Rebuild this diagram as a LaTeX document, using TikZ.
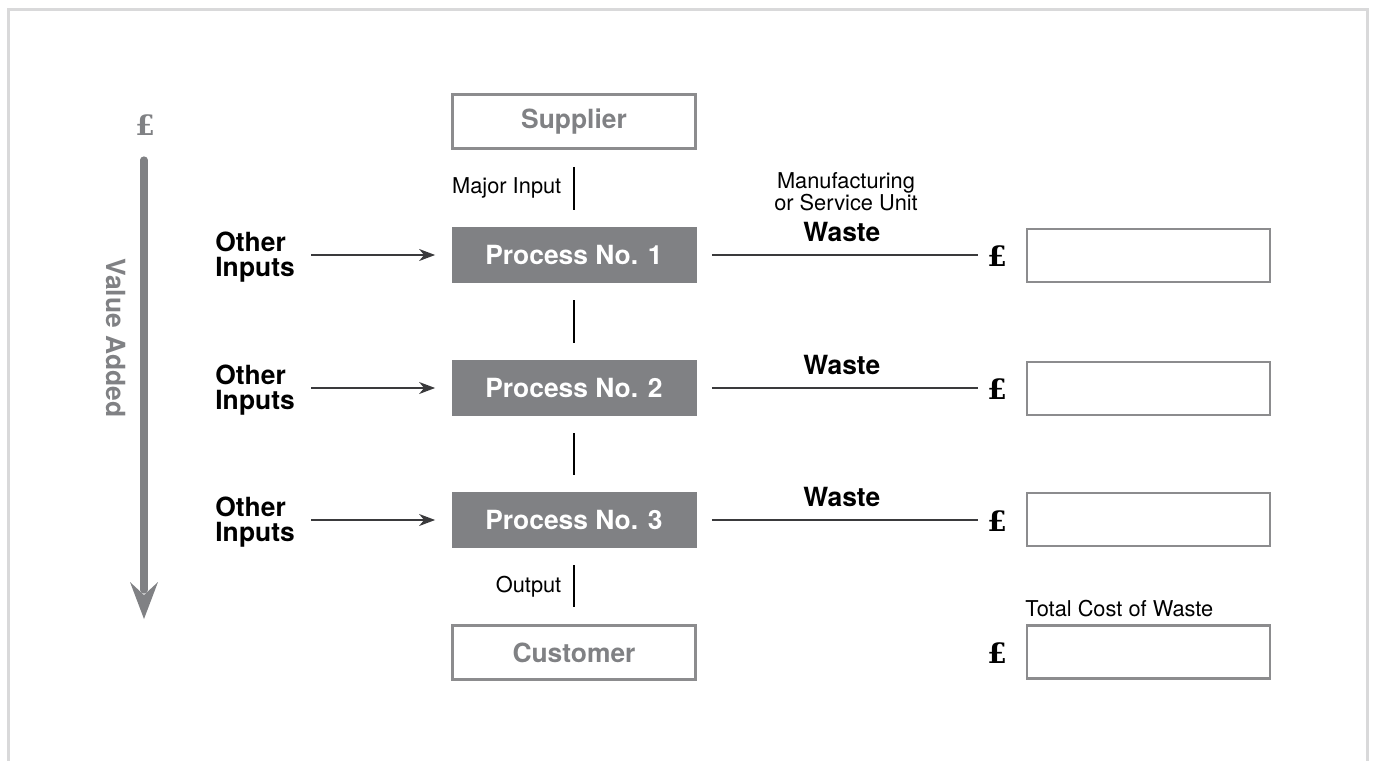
\documentclass[tikz,border=0pt]{standalone}
\usepackage{fontspec}
\setmainfont{TeX Gyre Heros}
\newfontfamily\poundfont{DejaVu Serif}
\usetikzlibrary{arrows.meta}
\definecolor{procgray}{HTML}{808184}
\definecolor{boxgray}{HTML}{8C8C8E}
\definecolor{framegray}{HTML}{D9D9DA}
\definecolor{linegray}{HTML}{3A3A3C}
\tikzset{
  bigbf/.style={font=\fontsize{13.2}{12.6}\selectfont\bfseries},
  small/.style={font=\fontsize{10.9}{11}\selectfont},
  endbox/.style={draw=boxgray, line width=1.4pt, minimum width=121.5pt, minimum height=27pt, inner sep=0pt, text=procgray, bigbf},
  procbox/.style={fill=procgray, minimum width=122.5pt, minimum height=28pt, inner sep=0pt, text=white, bigbf},
  costbox/.style={draw=boxgray, line width=1.4pt, minimum width=121.5pt, minimum height=26.5pt, inner sep=0pt},
  otherlbl/.style={bigbf, align=left, inner sep=0pt, anchor=west},
  pound/.style={font=\poundfont\fontsize{14}{14}\selectfont\bfseries, inner sep=0pt},
  vlink/.style={line width=0.7pt, shorten <=8.5pt, shorten >=8.5pt},
  inarrow/.style={line width=0.7pt, linegray, -{Stealth[length=8pt,width=6pt,inset=2.5pt]}, shorten <=8pt, shorten >=8pt},
  wasteline/.style={line width=0.7pt, linegray, shorten <=7.5pt, shorten >=4.5pt},
}
\begin{document}
\begin{tikzpicture}[x=0.5pt,y=-0.5pt]
\useasboundingbox (0,0) rectangle (1375,760);
% frame
\draw[framegray, line width=1.5pt] (8,800) -- (8,9) -- (1367,9) -- (1367,800);

% value added arrow
\node[pound, text=procgray] (vpound) at (145,125) {£};
\coordinate (vtop) at (144,160);
\coordinate (vbot) at (144,590);
\draw[procgray, line width=3.6pt, line cap=round] (vtop) -- (vbot);
\fill[procgray] (130,582) -- (144,595) -- (158,582) -- (144,619) -- cycle;
\node[bigbf, text=procgray, rotate=-90, inner sep=0pt] (vadd) at (116,338) {Value Added};

% main column
\node[endbox] (sup) at (574,121.5) {Supplier};
\node[procbox] (p1) at (574,255) {Process No. 1};
\node[procbox] (p2) at (574,388) {Process No. 2};
\node[procbox] (p3) at (574,520) {Process No. 3};
\node[endbox] (cus) at (574,652.5) {Customer};

\draw[vlink] (sup) -- (p1) node[midway, left=6pt, small, inner sep=0pt] (maj) {Major Input};
\draw[vlink] (p1) -- (p2);
\draw[vlink] (p2) -- (p3);
\draw[vlink] (p3) -- (cus) node[midway, left=6pt, small, inner sep=0pt] (outp) {Output};

% other inputs
\node[otherlbl] (o1) at (215,257) {Other\\Inputs};
\node[otherlbl] (o2) at (215,390) {Other\\Inputs};
\node[otherlbl] (o3) at (215,522) {Other\\Inputs};
\draw[inarrow] (o1.east |- p1) -- (p1);
\draw[inarrow] (o2.east |- p2) -- (p2);
\draw[inarrow] (o3.east |- p3) -- (p3);

% manufacturing label
\node[small, align=center, inner sep=0pt] (mfg) at (846,192) {Manufacturing\\or Service Unit};

% waste
\node[pound] (l1) at (997,256) {£};
\node[pound] (l2) at (997,389) {£};
\node[pound] (l3) at (997,521) {£};
\node[costbox] (c1) at (1148.5,255.5) {};
\node[costbox] (c2) at (1148.5,388.5) {};
\node[costbox] (c3) at (1148.5,519.5) {};
\draw[wasteline] (p1) -- (p1 -| l1.west) node[pos=0.5, above=3pt, bigbf, text=black] (w1) {Waste};
\draw[wasteline] (p2) -- (p2 -| l2.west) node[pos=0.5, above=3pt, bigbf, text=black] (w2) {Waste};
\draw[wasteline] (p3) -- (p3 -| l3.west) node[pos=0.5, above=3pt, bigbf, text=black] (w3) {Waste};

% total
\node[pound] (l4) at (997,653) {£};
\node[costbox] (c4) at (1148.5,652) {};
\node[small, anchor=south west, inner sep=0pt] (tot) at (1025,617) {Total Cost of Waste};
\end{tikzpicture}
\end{document}
